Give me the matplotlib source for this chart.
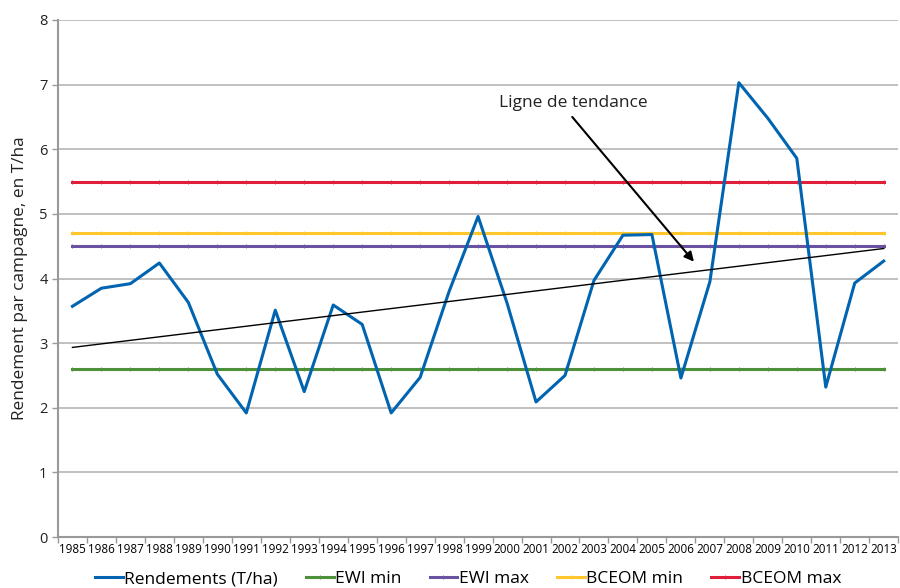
import numpy as np
import matplotlib
matplotlib.use("Agg")
import matplotlib.pyplot as plt

plt.rcParams['font.family'] = ['Open Sans', 'DejaVu Sans']

# yields per campaign
years = list(range(1985, 2014))
rendements = [3.57, 3.85, 3.92, 4.24, 3.63, 2.52, 1.92, 3.51, 2.25, 3.59,
              3.29, 1.92, 2.47, 3.80, 4.96, 3.62, 2.09, 2.50, 3.97, 4.67,
              4.68, 2.46, 3.95, 7.03, 6.48, 5.86, 2.32, 3.93, 4.27]

# reference thresholds
ewi_min = 2.6
ewi_max = 4.5
bceom_min = 4.7
bceom_max = 5.5

fig = plt.figure(figsize=(9, 5.88), dpi=100)
ax = fig.add_axes([0.0644, 0.0867, 0.9336, 0.8793])

x = np.array(years)

# horizontal threshold lines with small tick markers (Excel style)
refs = [(ewi_min, '#4E8F3A', 'EWI min'),
        (ewi_max, '#6A52A3', 'EWI max'),
        (bceom_min, '#FFC72C', 'BCEOM min'),
        (bceom_max, '#E0203A', 'BCEOM max')]
handles = []
ln, = ax.plot(x, rendements, color='#0064B0', lw=2.2, label='Rendements (T/ha)', zorder=4)
handles.append(ln)
for val, col, lab in refs:
    h, = ax.plot(x, [val] * len(x), color=col, lw=2.2, marker='|', ms=2.5,
                 mew=0.6, label=lab, zorder=3)
    handles.append(h)

# trend line (least squares on yields)
coef = np.polyfit(x, rendements, 1)
ax.plot(x, np.polyval(coef, x), color='black', lw=1.0, zorder=5)

ax.text(2002.3, 6.72, 'Ligne de tendance', ha='center', va='center',
        fontsize=12.5, color='#222222')
ax.annotate('', xy=(2006.45, 4.26), xytext=(2002.25, 6.5),
            arrowprops=dict(arrowstyle='-|>', color='black', lw=1.5,
                            shrinkA=0, shrinkB=0, mutation_scale=14))

ax.set_xlim(1984.55, 2013.45)
ax.set_ylim(0, 8)
ax.set_yticks(range(0, 9))
ax.set_xticks(x)
ax.set_xticklabels([str(y) for y in years], fontsize=8.4)
ax.set_xticks(np.arange(1984.5, 2014, 1), minor=True)
ax.tick_params(axis='x', which='major', length=0, pad=4)
ax.tick_params(axis='x', which='minor', length=4, color='#999999', width=1)
ax.tick_params(axis='y', length=4, color='#999999', width=1, labelsize=10.5,
               labelcolor='#222222')
ax.grid(axis='y', color='#B5B5B5', lw=1.2, zorder=0)
for s in ['top', 'right']:
    ax.spines[s].set_visible(False)
for s in ['left', 'bottom']:
    ax.spines[s].set_color('#999999')
    ax.spines[s].set_linewidth(1.5)

ax.set_ylabel('Rendement par campagne, en T/ha', fontsize=12.4, color='#222222', labelpad=8)

fig.legend(handles=handles, loc='lower center', bbox_to_anchor=(0.52, -0.025), ncol=5,
           frameon=False, fontsize=12.5, handlelength=1.6, handletextpad=0.1,
           columnspacing=1.6)

fig.savefig('out.png', dpi=100)
